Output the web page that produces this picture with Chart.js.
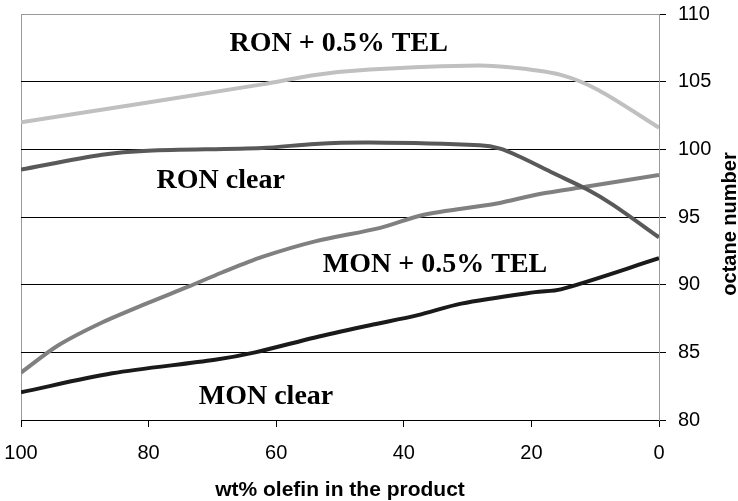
<!DOCTYPE html>
<html>
<head>
<meta charset="utf-8">
<script src="https://cdn.jsdelivr.net/npm/chart.js@4"></script>
<style>
  html, body { margin: 0; padding: 0; background: #fff; }
</style>
</head>
<body>
<canvas id="myChart" width="738" height="501"></canvas>
<script>
// Values (x = wt% olefin, y = octane number)
const ronTelOlefin = [100, 62.2, 53.9, 45.3, 28.4, 22.1, 15.4, 9.6, 0];
const ronTelOctane = [102.0, 104.8, 105.5, 105.9, 106.2, 106.0, 105.5, 104.4, 101.6];

const ronClearOlefin = [100, 87.3, 80.1, 62.2, 53.9, 45.3, 28.1, 24.9, 21.8, 16.6, 11.3, 7.2, 0];
const ronClearOctane = [98.5, 99.6, 99.9, 100.1, 100.4, 100.5, 100.3, 100.05, 99.45, 98.25, 97.05, 95.9, 93.5];

const monTelOlefin = [100, 94.2, 87.3, 80.1, 73.8, 68.5, 62.2, 53.9, 43.7, 37.0, 25.4, 18.7, 11.3, 0];
const monTelOctane = [83.5, 85.5, 87.2, 88.65, 89.85, 90.9, 92.05, 93.2, 94.2, 95.15, 96.0, 96.7, 97.25, 98.1];

const monClearOlefin = [100, 85.7, 69.6, 63.3, 53.9, 45.3, 37.8, 31.0, 19.4, 15.4, 0];
const monClearOctane = [82.05, 83.45, 84.45, 85.0, 86.1, 87.0, 87.75, 88.6, 89.45, 89.65, 91.95];

// In-plot labels and where they sit (data coordinates)
const seriesLabels = ['RON + 0.5% TEL', 'RON clear', 'MON + 0.5% TEL', 'MON clear'];
const labelOlefin = [50.2, 68.7, 35.1, 61.6];
const labelOctane = [107.8, 97.7, 91.5, 81.7];

const xTitle = 'wt% olefin in the product';
const yTitle = 'octane number';

function toPoints(xs, ys) {
  return xs.map((x, i) => ({ x: x, y: ys[i] }));
}

const tickFont = { family: 'Liberation Sans', size: 20 };
const titleFont = { family: 'Liberation Sans', size: 21, weight: 'bold' };

// draws the series names inside the plot and the rotated right-hand title
const textPlugin = {
  id: 'textPlugin',
  afterDatasetsDraw(chart) {
    const ctx = chart.ctx;
    const xs = chart.scales.x, ys = chart.scales.y;
    ctx.save();
    ctx.fillStyle = '#000';
    ctx.font = 'bold 28px "Liberation Serif"';
    ctx.textAlign = 'center';
    ctx.textBaseline = 'middle';
    seriesLabels.forEach((t, i) => {
      ctx.fillText(t, xs.getPixelForValue(labelOlefin[i]), ys.getPixelForValue(labelOctane[i]));
    });
    ctx.restore();

    ctx.save();
    ctx.fillStyle = '#000';
    ctx.font = 'bold 20px "Liberation Sans"';
    ctx.textAlign = 'center';
    ctx.textBaseline = 'middle';
    ctx.translate(730, 224);
    ctx.rotate(-Math.PI / 2);
    ctx.fillText(yTitle, 0, 0);
    ctx.restore();
  }
};

const ctx = document.getElementById('myChart').getContext('2d');
const myChart = new Chart(ctx, {
  type: 'line',
  data: {
    datasets: [
      { label: seriesLabels[0], data: toPoints(ronTelOlefin, ronTelOctane), borderColor: '#c0c0c0' },
      { label: seriesLabels[1], data: toPoints(ronClearOlefin, ronClearOctane), borderColor: '#595959' },
      { label: seriesLabels[2], data: toPoints(monTelOlefin, monTelOctane), borderColor: '#808080' },
      { label: seriesLabels[3], data: toPoints(monClearOlefin, monClearOctane), borderColor: '#1a1a1a' }
    ]
  },
  options: {
    responsive: false,
    animation: false,
    devicePixelRatio: 1,
    layout: { padding: { left: 21, top: 14, right: 0, bottom: 0 } },
    elements: {
      point: { radius: 0 },
      line: { borderWidth: 4, tension: 0.3, fill: false }
    },
    plugins: {
      legend: { display: false },
      tooltip: { enabled: false }
    },
    scales: {
      x: {
        type: 'linear',
        reverse: true,
        min: 0,
        max: 100,
        ticks: { stepSize: 20, font: tickFont, color: '#000', padding: 14, maxRotation: 0 },
        grid: {
          color: c => (c.tick && c.tick.value === 100 ? '#999' : 'rgba(0,0,0,0)'),
          tickColor: '#000',
          tickLength: 7
        },
        border: { color: '#000' },
        title: { display: true, text: xTitle, font: titleFont, color: '#000', padding: { top: 0, bottom: -2 } },
        afterFit: s => {
          s.height = 81;
          s.paddingLeft = 0;
          s.paddingRight = 0;
        }
      },
      y: {
        position: 'right',
        min: 80,
        max: 110,
        ticks: { stepSize: 5, font: tickFont, color: '#000', padding: 12 },
        grid: {
          color: c => (c.tick && c.tick.value === 110 ? '#999' : '#000'),
          tickColor: '#000',
          tickLength: 7
        },
        border: { color: '#999' },
        afterFit: s => {
          s.width = 79;
          s.paddingTop = 0;
          s.paddingBottom = 0;
        }
      }
    }
  },
  plugins: [textPlugin]
});
</script>
</body>
</html>
